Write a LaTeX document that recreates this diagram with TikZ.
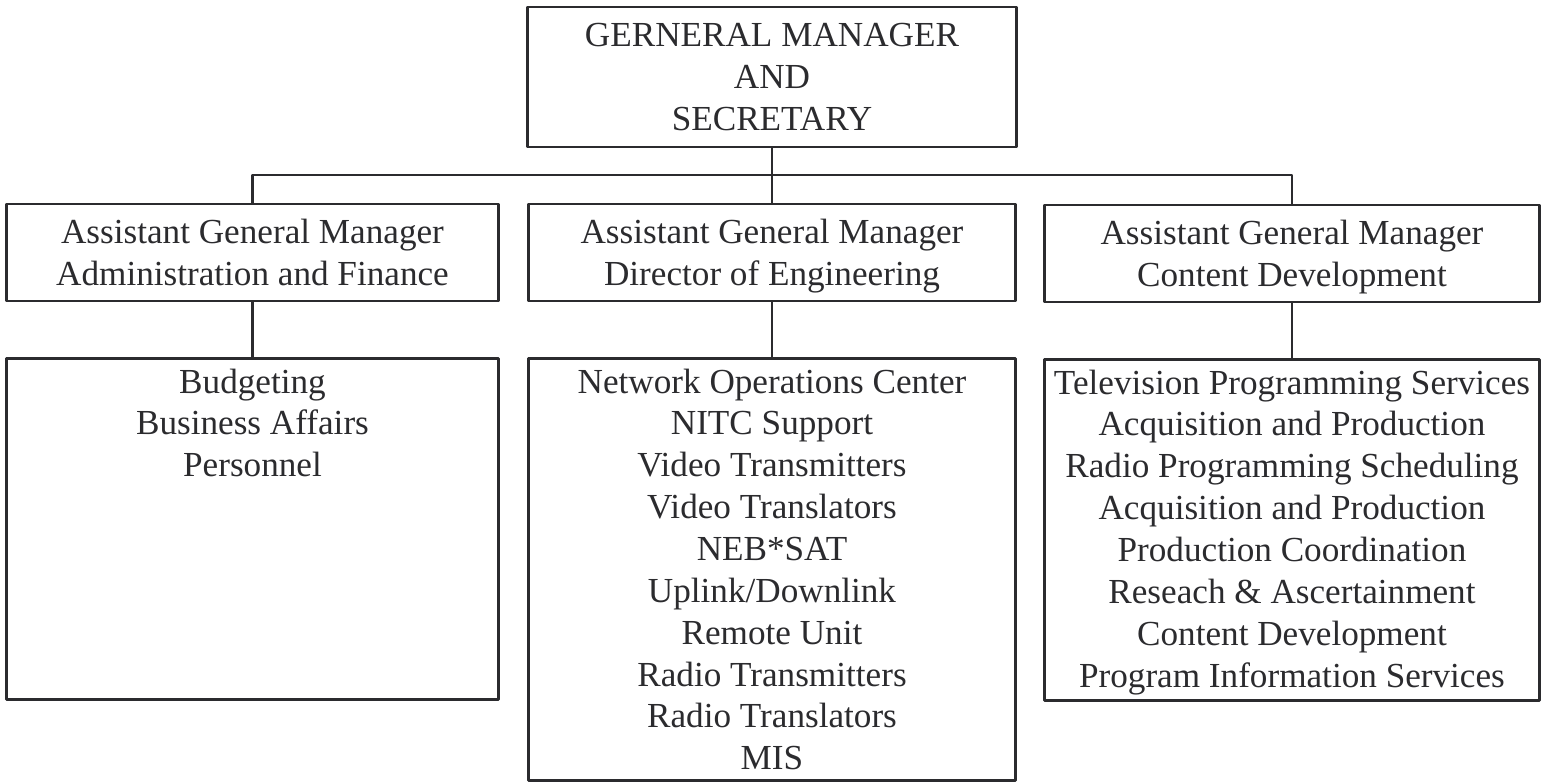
\documentclass[tikz,border=0pt]{standalone}
\usepackage{fontspec}
\setmainfont{Liberation Serif}
\usetikzlibrary{positioning}
\definecolor{ink}{HTML}{2B2B2E}

\tikzset{
  orgbox/.style={draw=ink, line width=0.8pt, inner sep=0pt, align=center, text=ink},
  mgrbox/.style={orgbox, minimum height=0.97cm, text depth=0pt},
  listtext/.style={anchor=north, inner sep=0pt, align=center, text=ink},
  wire/.style={draw=ink, line width=0.8pt},
}

\begin{document}
\begin{tikzpicture}[x=0.01cm, y=-0.01cm, line cap=round, line join=round,
  font=\fontsize{10}{11.9}\selectfont]
  \useasboundingbox (0,0) rectangle (1541,783);
  % general manager
  \node[orgbox, minimum width=4.88cm, minimum height=1.40cm] (gm) at (772,77)
    {GERNERAL MANAGER\\AND\\SECRETARY};
  % assistant general managers
  \node[mgrbox, minimum width=4.91cm] (admin) at (252.5,252.5)
    {Assistant General Manager\\Administration and Finance};
  \node[mgrbox, minimum width=4.87cm] (eng) at (772,252.5)
    {Assistant General Manager\\Director of Engineering};
  \node[mgrbox, minimum width=4.94cm] (content) at (1292,253.5)
    {Assistant General Manager\\Content Development};
  % departments
  \node[orgbox, anchor=north, minimum width=4.91cm, minimum height=3.41cm] (adminunits) at (252.5,357) {};
  \node[orgbox, anchor=north, minimum width=4.87cm, minimum height=4.22cm] (engunits) at (772,357) {};
  \node[orgbox, anchor=north, minimum width=4.94cm, minimum height=3.41cm] (contentunits) at (1292,358) {};
  \node[listtext] (adminlist) at ([yshift=-0.11cm]adminunits.north)
    {Budgeting\\Business Affairs\\Personnel};
  \node[listtext] (englist) at ([yshift=-0.11cm]engunits.north)
    {Network Operations Center\\NITC Support\\Video Transmitters\\Video Translators\\NEB*SAT\\
     Uplink/Downlink\\Remote Unit\\Radio Transmitters\\Radio Translators\\MIS};
  \node[listtext] (contentlist) at ([yshift=-0.11cm]contentunits.north)
    {Television Programming Services\\Acquisition and Production\\Radio Programming Scheduling\\
     Acquisition and Production\\Production Coordination\\Reseach \& Ascertainment\\
     Content Development\\Program Information Services};
  % connectors
  \coordinate (bus) at (772,175);
  \draw[wire] (gm.south) -- (bus);
  \draw[wire] (admin.north) |- (bus) -| (content.north);
  \draw[wire] (bus) -- (eng.north);
  \draw[wire] (admin.south) -- (adminunits.north);
  \draw[wire] (eng.south) -- (engunits.north);
  \draw[wire] (content.south) -- (contentunits.north);
\end{tikzpicture}
\end{document}
